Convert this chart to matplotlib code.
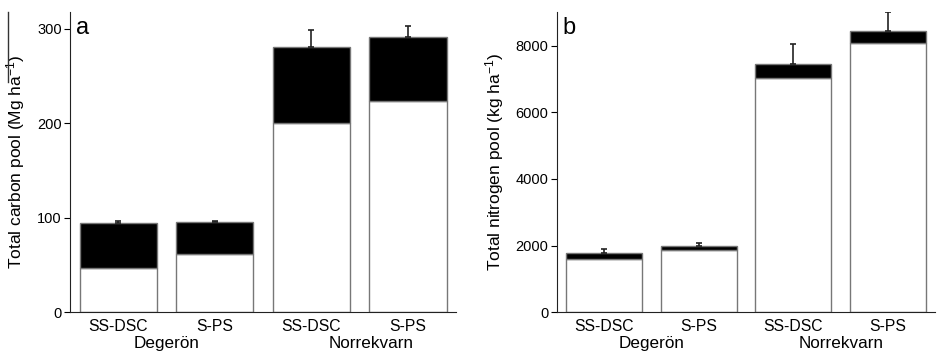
import numpy as np
import matplotlib
matplotlib.use('Agg')
from matplotlib import pyplot as plt
from matplotlib.lines import Line2D

plt.rcParams['font.family'] = ['Liberation Sans', 'DejaVu Sans']

treatments = ['SS-DSC', 'S-PS', 'SS-DSC', 'S-PS']
sites = ['Degerön', 'Norrekvarn']

# carbon pool, Mg/ha: lower (white) part, total height, upper error
carbon_lower = [47, 62, 200, 224]
carbon_total = [94, 95, 281, 292]
carbon_err = [2, 2, 18, 11]

# nitrogen pool, kg/ha
nitrogen_lower = [1590, 1860, 7030, 8100]
nitrogen_total = [1790, 1990, 7450, 8440]
nitrogen_err = [110, 80, 620, 580]

fig = plt.figure(figsize=(9.39, 3.53), dpi=100)
ax1 = fig.add_axes([0.0745, 0.116, 0.4115, 0.85])
ax2 = fig.add_axes([0.593, 0.116, 0.403, 0.85])

x = np.arange(4)


def panel(ax, lower, total, err, ymax, yticks, ylabel, letter, site_x):
    lower = np.array(lower)
    total = np.array(total)
    upper = total - lower
    ax.bar(x, lower, width=0.8, color='white', edgecolor='#777777', linewidth=1.0)
    ax.bar(x, upper, bottom=lower, width=0.8, color='black', edgecolor='#777777', linewidth=1.0)
    ax.errorbar(x, total, yerr=[np.zeros(4), err], fmt='none', ecolor='#222222',
                elinewidth=1.2, capsize=2.5, capthick=1.2)
    ax.set_xlim(-0.5, 3.5)
    ax.set_ylim(0, ymax)
    ax.set_yticks(yticks)
    ax.set_xticks(x)
    ax.set_xticklabels(treatments, fontsize=11.3)
    ax.tick_params(axis='x', length=0, pad=5)
    ax.tick_params(axis='y', direction='out', length=4, labelsize=10.5, pad=2)
    for s in ['top', 'right']:
        ax.spines[s].set_visible(False)
    ax.spines['left'].set_color('#222222')
    ax.spines['bottom'].set_color('#222222')
    ax.set_ylabel(ylabel, fontsize=12.5)
    ax.text(0.015, 0.985, letter, transform=ax.transAxes, fontsize=17, va='top', ha='left')
    for sx, name in zip(site_x, sites):
        ax.text(sx, -0.08, name, transform=ax.get_xaxis_transform(),
                fontsize=12.3, ha='center', va='top')


panel(ax1, carbon_lower, carbon_total, carbon_err, 318, [0, 100, 200, 300],
      'Total carbon pool (Mg $\\mathregular{ha^{-1}}$)', 'a', [0.5, 2.62])
panel(ax2, nitrogen_lower, nitrogen_total, nitrogen_err, 9020, [0, 2000, 4000, 6000, 8000],
      'Total nitrogen pool (kg $\\mathregular{ha^{-1}}$)', 'b', [0.5, 2.5])

ax1.yaxis.set_label_coords(-0.112, 0.5)
ax2.yaxis.set_label_coords(-0.135, 0.5)

# stray rule left of the first axis label
fig.add_artist(Line2D([8 / 939, 8 / 939], [1 - 12 / 353, 1 - 82 / 353],
                      transform=fig.transFigure, color='#333333', linewidth=1))

fig.savefig('out.png', dpi=100)
